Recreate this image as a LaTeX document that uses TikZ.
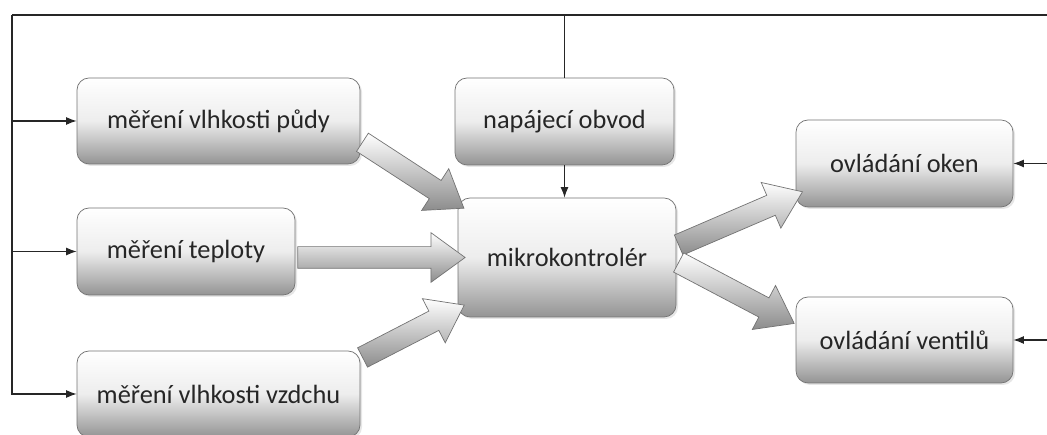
\documentclass[tikz,border=0pt]{standalone}
\usepackage{fontspec}
\setmainfont{Carlito}
\usetikzlibrary{calc,arrows.meta,shapes.arrows,shadows}

\newcommand{\fatarrow}[2]{%
  \path let \p1=($(#1)!-0.1cm!(#2)$), \p2=(#2), \n1={atan2(\y2-\y1,\x2-\x1)}, \n2={veclen(\x2-\x1,\y2-\y1)} in
    node[bigarrow, rotate=\n1, minimum height=\n2] at ($(\p1)!0.5!(\p2)$) {};%
}

\begin{document}
\begin{tikzpicture}[
  box/.style={rectangle, rounded corners=0.24cm, draw=black!55, thin,
    top color=white, bottom color=black!42, middle color=black!7,
    drop shadow={opacity=0.2, shadow xshift=0.04cm, shadow yshift=-0.04cm},
    font=\fontsize{15}{18}\selectfont, text=black!85},
  bigarrow/.style={single arrow, draw=black!55, thin, inner xsep=0pt, inner ysep=0.21cm,
    single arrow head extend=0.28cm, single arrow tip angle=72,
    top color=white, bottom color=black!45},
  wire/.style={line width=0.6pt, black!85},
  feed/.style={wire, -{Latex[length=6pt,width=4.5pt]}}
]
\useasboundingbox (0,0) rectangle (20.94,8.70);

\node[box, minimum width=5.66cm, minimum height=1.72cm] (pudy) at (4.37,6.28) {měření vlhkosti půdy};
\node[box, minimum width=4.36cm, minimum height=1.74cm] (teploty) at (3.72,3.67) {měření teploty};
\node[box, minimum width=5.66cm, minimum height=1.72cm] (vzduch) at (4.37,0.82) {měření vlhkosti vzdchu};
\node[box, minimum width=4.38cm, minimum height=1.74cm] (napajeni) at (11.29,6.27) {napájecí obvod};
\node[box, minimum width=4.36cm, minimum height=2.38cm] (mcu) at (11.34,3.55) {mikrokontrolér};
\node[box, minimum width=4.34cm, minimum height=1.74cm] (okna) at (18.09,5.43) {ovládání oken};
\node[box, minimum width=4.34cm, minimum height=1.72cm] (ventily) at (18.09,1.90) {ovládání ventilů};

\coordinate (rohL) at (0.24,8.40);
\coordinate (rohP) at (20.94,8.40);

\draw[wire] (rohL) -- (rohP);
\draw[wire] (napajeni.north) -- (napajeni.north |- rohL);
\draw[feed] (rohL) |- (vzduch.west);
\draw[feed] (rohL |- pudy.west) -- (pudy.west);
\draw[feed] (rohL |- teploty.west) -- (teploty.west);
\draw[feed] (napajeni.south) -- (mcu.north -| napajeni.south);
\draw[feed] (rohP |- okna.east) -- (okna.east);
\draw[feed] (rohP |- ventily.east) -- (ventily.east);

\fatarrow{pudy.-8}{mcu.154}
\fatarrow{teploty.east |- mcu.west}{mcu.west}
\fatarrow{vzduch.14}{mcu.205}
\fatarrow{mcu.6}{okna.196}
\fatarrow{mcu.-2}{$(ventily.west)+(-0.16,0.40)$}
\end{tikzpicture}
\end{document}
